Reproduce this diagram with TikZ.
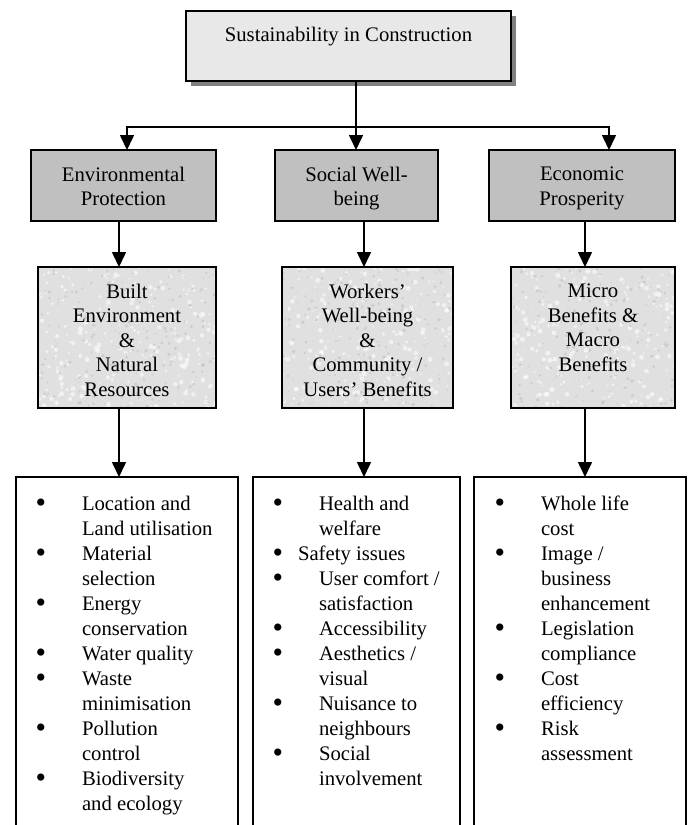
\documentclass[tikz,border=0pt]{standalone}
\usepackage{fontspec}
\setmainfont{Liberation Serif}
\usetikzlibrary{arrows.meta,calc}
\definecolor{topfill}{HTML}{E8E8E8}
\definecolor{shadowgray}{HTML}{808080}
\definecolor{midfill}{HTML}{C0C0C0}
\definecolor{texfill}{HTML}{E0E0E0}
\newcommand\LBul[1]{\makebox[#1][l]{\smash{\raisebox{-2.2pt}{\fontsize{30}{25}\selectfont\textbullet}}}}
\newcommand\LInd[1]{\hspace*{#1}}
\begin{document}
\begin{tikzpicture}[x=1pt,y=-1pt,
  every node/.style={font=\fontsize{20.7}{24.5}\selectfont, outer sep=0pt},
  boxline/.style={draw=black, line width=1.8pt, anchor=north west, inner sep=0pt},
  topbox/.style={boxline, fill=topfill},
  pillar/.style={boxline, fill=midfill},
  texbox/.style={boxline, fill=texfill,
    path picture={
      \foreach \k in {1,...,260}{
        \fill[white, opacity=0.55] ($(path picture bounding box.north west)+(rnd*185, rnd*145)$) circle ({0.8+1.8*rnd});
      }
      \foreach \k in {1,...,200}{
        \fill[gray, opacity=0.2] ($(path picture bounding box.north west)+(rnd*185, rnd*145)$) circle ({0.6+1.3*rnd});
      }
    }},
  listbox/.style={boxline, fill=white},
  boxtext/.style={align=center, inner sep=0pt, anchor=north},
  listtext/.style={align=left, inner sep=0pt, anchor=north west, font=\fontsize{20.7}{25}\selectfont},
  conn/.style={line width=1.6pt},
  arr/.style={conn, -{Triangle[length=15pt,width=14pt]}}
]
\pgfmathsetseed{7}
\useasboundingbox (0,0) rectangle (688,825);

% top
\fill[shadowgray] (191,16) rectangle (516,86);
\node[topbox, minimum width=325, minimum height=70] (top) at (186,11) {};
\node[anchor=base, inner sep=0pt] (toptext) at (348.5,41) {Sustainability in Construction};

% pillars
\node[pillar, minimum width=185, minimum height=71] (l2a) at (31,150) {};
\node[pillar, minimum width=163, minimum height=71] (l2b) at (275,150) {};
\node[pillar, minimum width=186, minimum height=71] (l2c) at (489,150) {};
\node[boxtext] (t2a) at (123.5,167) {Environmental\\Protection};
\node[boxtext] (t2b) at (356.5,167) {Social Well-\\being};
\node[boxtext] (t2c) at (582,167) {Economic\\Prosperity};

% textured boxes
\node[texbox, minimum width=178, minimum height=141] (l3a) at (38,267) {};
\node[texbox, minimum width=171, minimum height=141] (l3b) at (282,267) {};
\node[texbox, minimum width=164, minimum height=141] (l3c) at (511,267) {};
\node[boxtext] (t3a) at (127,284) {Built\\Environment\\\&\\Natural\\Resources};
\node[boxtext] (t3b) at (367.5,284) {Workers'\\Well-being\\\&\\Community /\\Users' Benefits};
\node[boxtext] (t3c) at (593,284) {Micro\\Benefits \&\\Macro\\Benefits};

% list boxes (open at the bottom edge)
\node[listbox, minimum width=222, minimum height=400] (l4a) at (16,477) {};
\node[listbox, minimum width=207, minimum height=400] (l4b) at (253,477) {};
\node[listbox, minimum width=212, minimum height=400] (l4c) at (474,477) {};

\node[listtext] (list1) at (35.5,496) {%
\LBul{46.5pt}Location and\\
\LInd{46.5pt}Land utilisation\\
\LBul{46.5pt}Material\\
\LInd{46.5pt}selection\\
\LBul{46.5pt}Energy\\
\LInd{46.5pt}conservation\\
\LBul{46.5pt}Water quality\\
\LBul{46.5pt}Waste\\
\LInd{46.5pt}minimisation\\
\LBul{46.5pt}Pollution\\
\LInd{46.5pt}control\\
\LBul{46.5pt}Biodiversity\\
\LInd{46.5pt}and ecology};

\node[listtext] (list2) at (272.5,496) {%
\LBul{46.5pt}Health and\\
\LInd{46.5pt}welfare\\
\LBul{25.5pt}Safety issues\\
\LBul{46.5pt}User comfort /\\
\LInd{46.5pt}satisfaction\\
\LBul{46.5pt}Accessibility\\
\LBul{46.5pt}Aesthetics /\\
\LInd{46.5pt}visual\\
\LBul{46.5pt}Nuisance to\\
\LInd{46.5pt}neighbours\\
\LBul{46.5pt}Social\\
\LInd{46.5pt}involvement};

\node[listtext] (list3) at (494.5,496) {%
\LBul{46.5pt}Whole life\\
\LInd{46.5pt}cost\\
\LBul{46.5pt}Image /\\
\LInd{46.5pt}business\\
\LInd{46.5pt}enhancement\\
\LBul{46.5pt}Legislation\\
\LInd{46.5pt}compliance\\
\LBul{46.5pt}Cost\\
\LInd{46.5pt}efficiency\\
\LBul{46.5pt}Risk\\
\LInd{46.5pt}assessment};

% connectors
\coordinate (xm) at (356,127);
\coordinate (hl) at (127,127);
\coordinate (hr) at (609,127);
\coordinate (ca) at (119,0);
\coordinate (cb) at (364,0);
\coordinate (cc) at (585,0);

\draw[arr] (top.south -| xm) -- (l2b.north -| xm);
\draw[arr] (xm) -| (l2a.north -| hl);
\draw[arr] (xm) -| (l2c.north -| hr);

\draw[arr] (l2a.south -| ca) -- (l3a.north -| ca);
\draw[arr] (l2b.south -| cb) -- (l3b.north -| cb);
\draw[arr] (l2c.south -| cc) -- (l3c.north -| cc);

\draw[arr] (l3a.south -| ca) -- (l4a.north -| ca);
\draw[arr] (l3b.south -| cb) -- (l4b.north -| cb);
\draw[arr] (l3c.south -| cc) -- (l4c.north -| cc);
\end{tikzpicture}
\end{document}
